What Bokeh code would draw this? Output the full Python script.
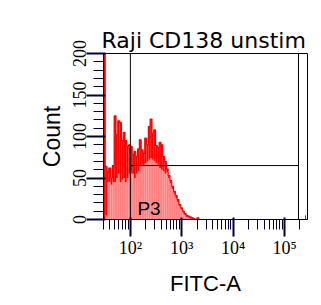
import numpy as np
from bokeh.plotting import figure
from bokeh.models import Range1d, FixedTicker, SingleIntervalTicker, Span, Label
from bokeh.embed import file_html
from bokeh.resources import INLINE

title_text = "Raji CD138 unstim"
x_label = "FITC-A"
y_label = "Count"
gate_name = "P3"

# histogram bins on the log10(FITC-A) scale: first edge and bin width
bin_log_start = 1.475
bin_log_width = 0.035
# per bin: highest and lowest channel count falling in the bin (spiky data)
count_max = [420, 64, 57, 62, 50, 65, 125, 102, 119, 117, 95, 105, 95, 88, 90, 88, 78, 82,
             76, 85, 96, 84, 80, 98, 90, 112, 121, 104, 108, 89, 87, 93, 90, 76, 70, 61,
             53, 47, 40, 34, 29, 24, 18, 14, 10, 7, 5, 4, 3, 2, 1, 0, 2, 0]
count_min = [0, 5, 45, 45, 42, 45, 45, 50, 55, 45, 48, 50, 45, 50, 55, 55, 55, 50,
             55, 58, 65, 66, 64, 68, 70, 72, 74, 72, 70, 68, 66, 62, 60, 58, 55, 57,
             50, 44, 37, 31, 26, 21, 16, 12, 8, 5, 3, 2, 1, 0, 0, 0, 0, 0]
# saturated events piled at the top of the scale
sat_edges = [250000, 262144]
sat_count = [5]

# P3 gate
gate_left = 100
gate_right = 187000
gate_level = 65

x_major = [100, 1000, 10000, 100000]
x_major_labels = ["10\u00b2", "10\u00b3", "10\u2074", "10\u2075"]
x_minor = [m * 10 ** e for e in (1, 2, 3, 4, 5) for m in range(2, 10)]

edges = 10 ** (bin_log_start + bin_log_width * np.arange(len(count_max) + 1))
left = edges[:-1]
right = edges[1:]

W, H = 308, 305
p = figure(width=W, height=H, x_axis_type="log",
           x_range=Range1d(30, 280000), y_range=Range1d(0, 200),
           output_backend="svg", toolbar_location=None,
           min_border_left=103, min_border_right=1, min_border_top=53, min_border_bottom=86)
p.background_fill_color = "white"
p.border_fill_color = "white"
p.outline_line_color = "black"
p.outline_line_width = 1
p.xgrid.visible = False
p.ygrid.visible = False

# histogram
p.quad(left=left, right=right, bottom=0, top=count_min,
       fill_color="#ff8080", line_color=None)
p.quad(left=left, right=right, bottom=count_min, top=count_max,
       fill_color="#ff0000", line_color=None)
p.step(x=np.append(left, right[-1]), y=np.append(count_max, 0), mode="after",
       line_color="#ff0000", line_width=1.2)
p.quad(left=sat_edges[0], right=sat_edges[1], bottom=0, top=sat_count,
       fill_color="#ff0000", line_color=None)

# gate
for gx in (gate_left, gate_right):
    p.add_layout(Span(location=gx, dimension="height", line_color="black", line_width=1))
p.segment(x0=[gate_left], x1=[gate_right], y0=[gate_level], y1=[gate_level],
          line_color="black", line_width=1)
p.add_layout(Label(x=137, y=13, text=gate_name, text_font="Liberation Sans",
                   text_font_size="19px", text_color="black", text_baseline="alphabetic"))

# axes
tick_color = "#000033"
p.xaxis.ticker = FixedTicker(ticks=x_major, minor_ticks=x_minor)
p.xaxis.major_label_overrides = dict(zip(x_major, x_major_labels))
p.yaxis.ticker = SingleIntervalTicker(interval=50, num_minor_ticks=5)
for ax in (p.xaxis, p.yaxis):
    ax.axis_line_color = "black"
    ax.major_tick_out = 17
    ax.minor_tick_out = 10
    ax.major_tick_line_width = 2
    ax.major_tick_line_color = tick_color
    ax.minor_tick_line_color = tick_color
    ax.major_label_text_font = "Liberation Sans Narrow"
    ax.major_label_text_font_size = "18px"
    ax.major_label_text_color = "black"
    ax.axis_label_text_font = "Liberation Sans"
    ax.axis_label_text_font_style = "normal"
    ax.axis_label_text_color = "black"

p.xaxis.major_label_standoff = 1
p.yaxis.major_label_standoff = 1
p.yaxis.major_label_orientation = "vertical"
p.xaxis.axis_label = x_label
p.xaxis.axis_label_text_font_size = "22px"
p.xaxis.axis_label_standoff = 10
p.yaxis.axis_label = y_label
p.yaxis.axis_label_text_font_size = "23px"
p.yaxis.axis_label_standoff = 5

# title
p.title.text = title_text
p.title.text_font = "DejaVu Sans"
p.title.text_font_size = "22px"
p.title.text_font_style = "normal"
p.title.text_color = "black"
p.title.align = "left"
p.title.offset = -2
p.title.standoff = 2

open("out.html", "w").write(file_html(p, INLINE))
